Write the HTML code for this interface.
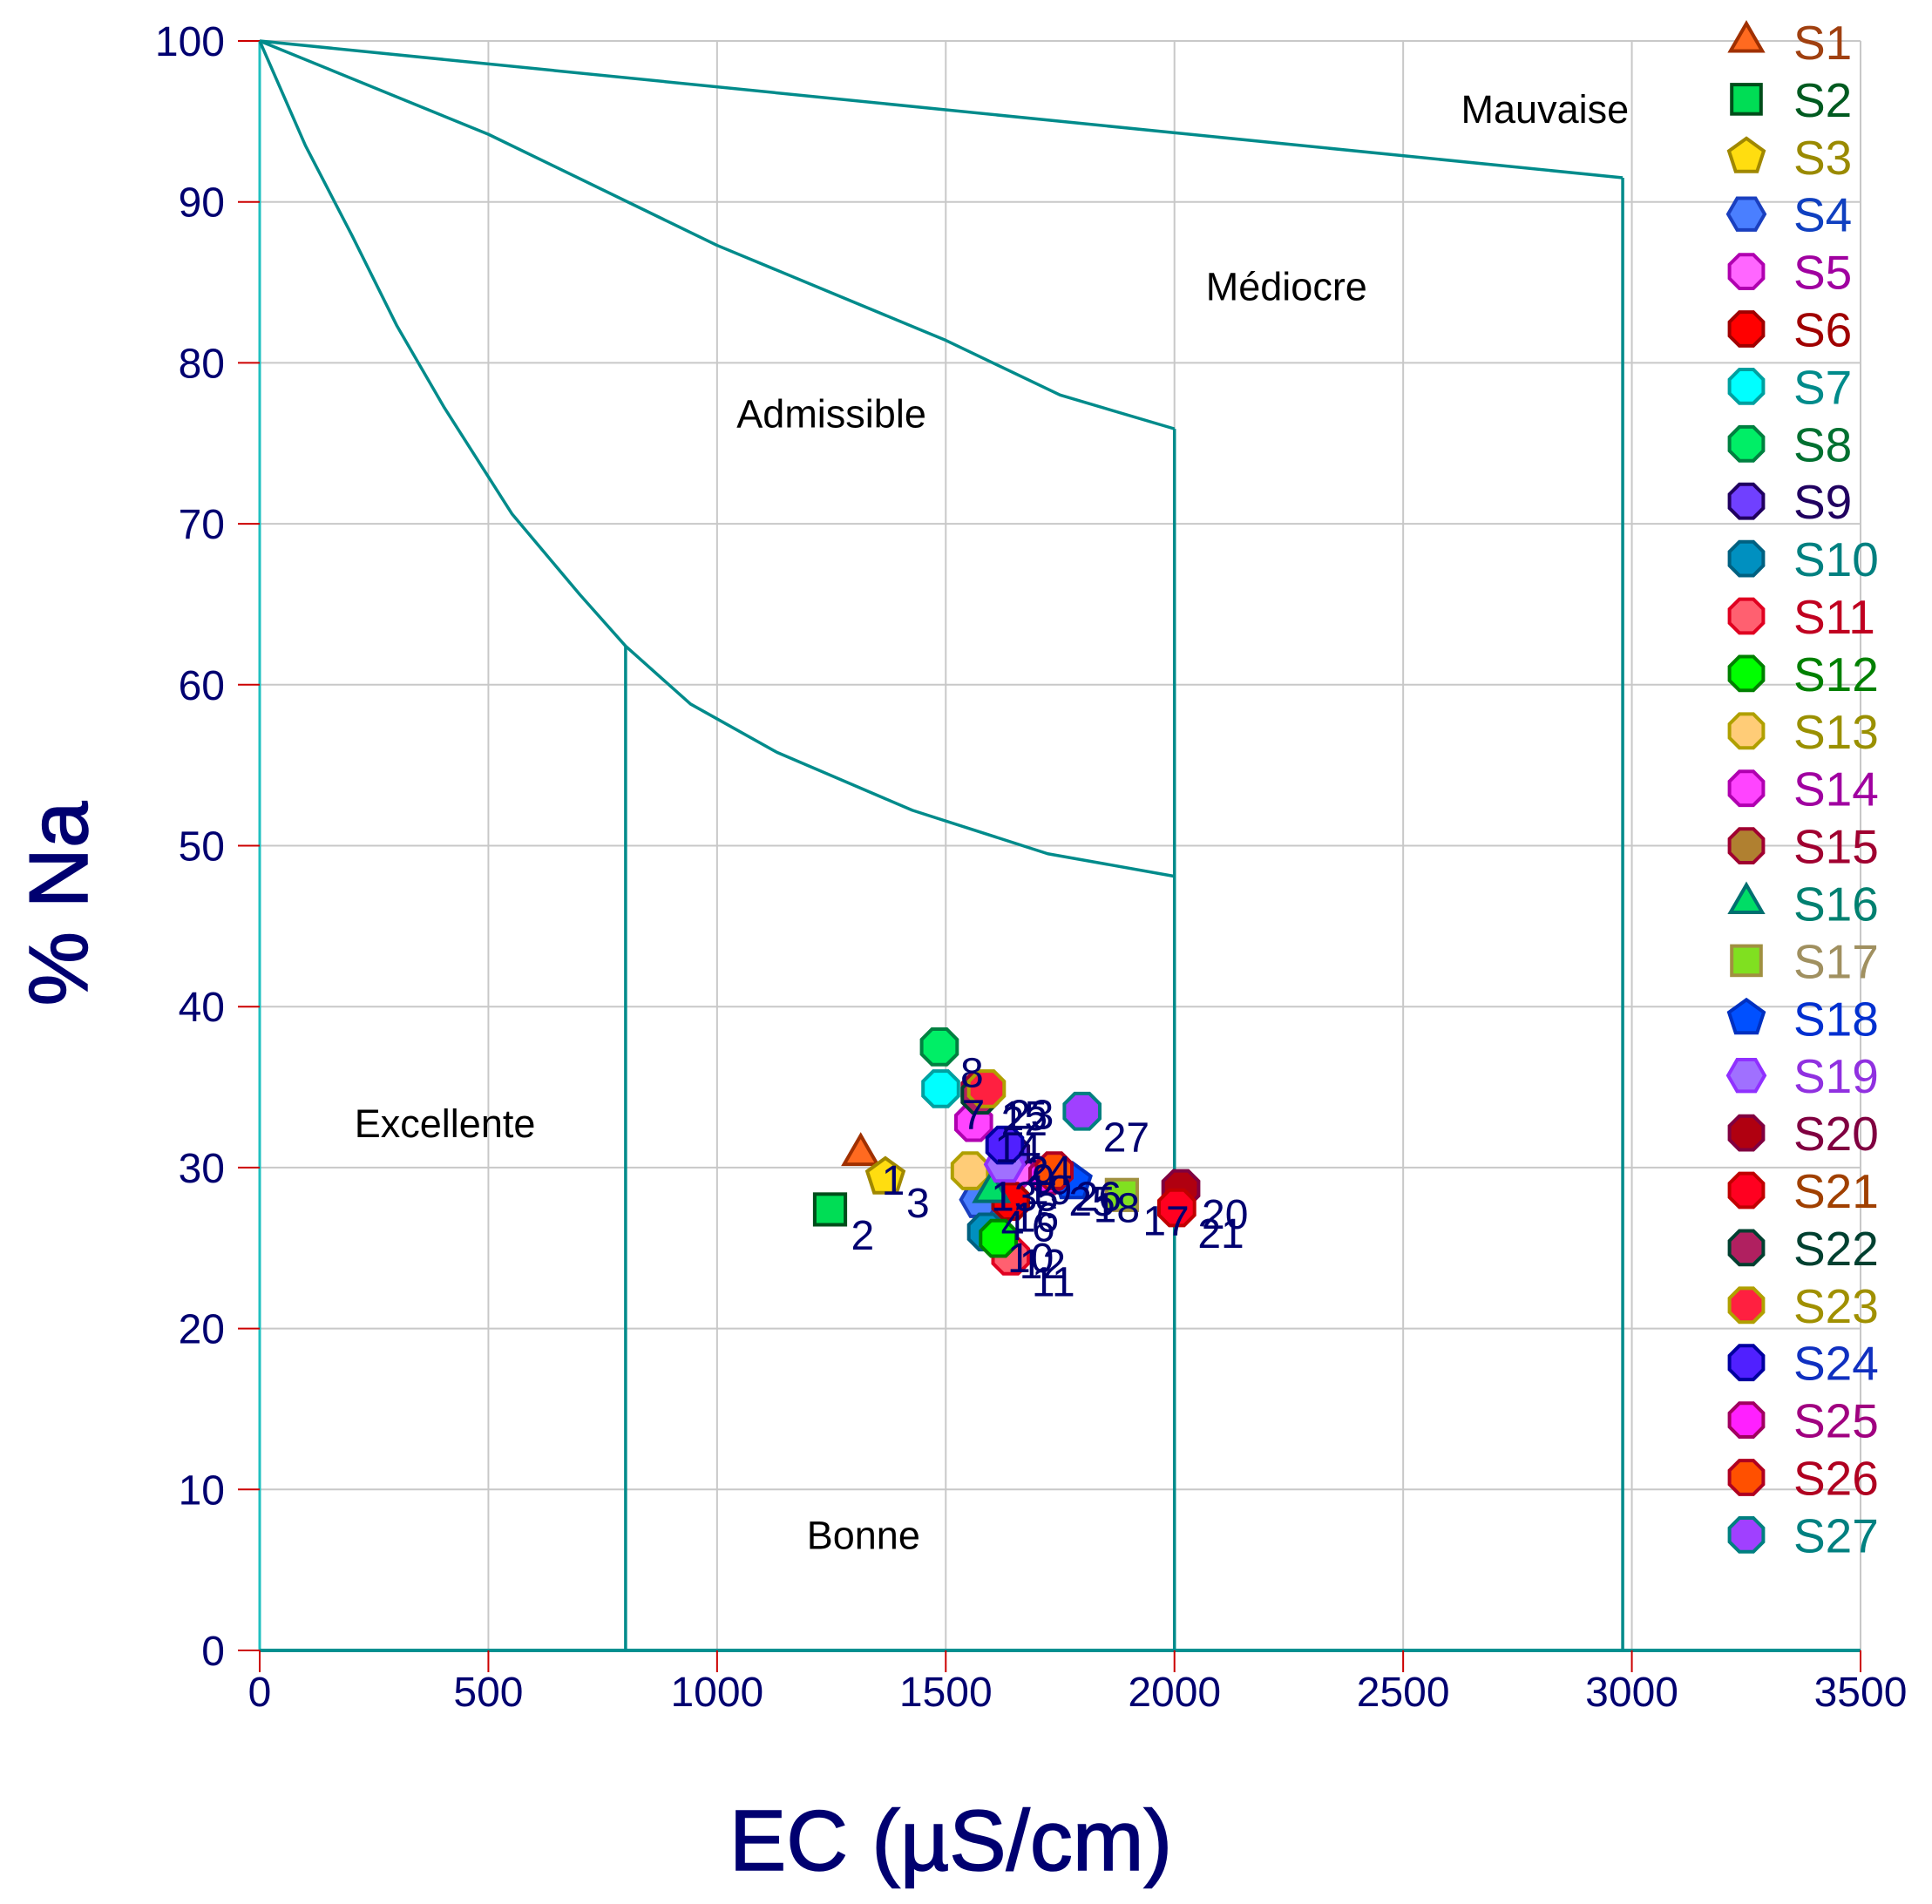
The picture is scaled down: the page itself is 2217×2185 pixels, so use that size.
<!DOCTYPE html>
<html><head><meta charset="utf-8"><style>
html,body{margin:0;padding:0;background:#fff;}
svg{display:block;font-family:"Liberation Sans",sans-serif;}
</style></head><body>
<svg id="chart" width="2217" height="2185" viewBox="0 0 2217 2185" xmlns="http://www.w3.org/2000/svg"></svg>
<script>
const xTicks=[0,500,1000,1500,2000,2500,3000,3500];
const yTicks=[0,10,20,30,40,50,60,70,80,90,100];
const seriesNames=["S1","S2","S3","S4","S5","S6","S7","S8","S9","S10","S11","S12","S13","S14","S15","S16","S17","S18","S19","S20","S21","S22","S23","S24","S25","S26","S27"];
const ecValues=[1314,1247,1368,1575,1650,1642,1489,1486,1642,1589,1642,1615,1553,1561,1575,1600,1885,1777,1629,2014,2005,1575,1589,1629,1723,1737,1798];
const naValues=[30.8,27.4,29.4,28.0,29.8,27.9,34.9,37.5,30.9,26.0,24.5,25.6,29.8,32.8,34.8,28.5,28.3,29.1,30.2,28.7,27.5,34.5,34.9,31.4,29.5,29.8,33.5];
const shapes=["tri","sq","pent","hex","oct","oct","oct","oct","oct","oct","oct","oct","oct","oct","oct","tri","sq","pent","hex","oct","oct","oct","oct","oct","oct","oct","oct"];
const fills=["#ff6a20","#00dd55","#ffdd10","#4a7fff","#ff66ff","#ff0000","#00ffff","#00ee66","#7040ff","#0090c0","#ff6070","#00ff00","#ffcc77","#ff44ff","#b08030","#00dd66","#80e020","#0050ff","#a070ff","#b00010","#ff0020","#b02060","#ff2040","#5020ff","#ff20ff","#ff5000","#a040ff"];
const strokes=["#a03000","#004d1a","#a08800","#1a3fbf","#b000b0","#a00000","#00a0a0","#008040","#200060","#006080","#e00020","#008000","#b0a000","#b000b0","#a00030","#007070","#a09040","#0030c0","#9030ff","#800040","#c00000","#004030","#b0a000","#0000a0","#a00060","#b00020","#008080"];
const textColors=["#a04010","#005a20","#9a8a00","#1040c0","#a000a0","#a00000","#008b8b","#007030","#200060","#008080","#c00020","#008000","#9a9000","#a000a0","#a00030","#008070","#a09060","#0030d0","#9030e0","#800040","#a04000","#004030","#a09000","#1030c0","#a00080","#b00020","#008080"];
const lowerCurveX=[0,100,202,300,404,552,700,800,942,1131,1427,1723,2000];
const lowerCurveY=[100,93.5,87.9,82.3,77.2,70.6,65.6,62.4,58.8,55.8,52.2,49.5,48.1];
const midCurveX=[0,500,1000,1500,1750,2000];
const midCurveY=[100,94.2,87.3,81.4,78,75.9];
const topLineX=[0,2980];
const topLineY=[100,91.5];
const zoneNames=["Mauvaise","Médiocre","Admissible","Excellente","Bonne"];
const zoneX=[2810,2245,1250,405,1320];
const zoneY=[94.9,83.9,76,31.9,6.3];

const NS="http://www.w3.org/2000/svg";
const svg=document.getElementById('chart');
const X0=298,X1=2135,Y0=1894,Y1=47;
const sx=v=>X0+(v/3500)*(X1-X0);
const sy=v=>Y0-(v/100)*(Y0-Y1);
function mk(tag,attrs,parent){const e=document.createElementNS(NS,tag);for(const k in attrs)e.setAttribute(k,attrs[k]);(parent||svg).appendChild(e);return e;}

const grid=mk('g',{});


xTicks.forEach(t=>{if(t>0){const l=mk('line',{x1:sx(t),x2:sx(t),y1:Y1,y2:Y0,stroke:'#c8c8c8','stroke-width':2},grid);}});
yTicks.forEach(t=>{if(t>0){const l=mk('line',{x1:X0,x2:X1,y1:sy(t),y2:sy(t),stroke:'#c8c8c8','stroke-width':2},grid);}});

const axes=mk('g',{});


const ya=mk('line',{x1:X0,x2:X0,y1:Y1,y2:Y0,stroke:'#20c0c0','stroke-width':3},axes);


const xa=mk('line',{x1:X0,x2:X1,y1:Y0,y2:Y0,stroke:'#009090','stroke-width':4},axes);


xTicks.forEach(t=>{
  mk('line',{x1:sx(t),x2:sx(t),y1:Y0,y2:Y0+25,stroke:'#cc0000','stroke-width':2},axes);
  const tx=mk('text',{x:sx(t),y:Y0+64,'text-anchor':'middle','font-size':48,fill:'#000070'},axes);
  tx.textContent=t;
  
  
});
yTicks.forEach(t=>{
  mk('line',{x1:X0-25,x2:X0,y1:sy(t),y2:sy(t),stroke:'#cc0000','stroke-width':2},axes);
  const tx=mk('text',{x:X0-40,y:sy(t)+17,'text-anchor':'end','font-size':48,fill:'#000070'},axes);
  tx.textContent=t;
  
  
});
const xt=mk('text',{x:1091,y:2146,'text-anchor':'middle','font-size':98,fill:'#000070',stroke:'#000070','stroke-width':1.5});
xt.textContent='EC (µS/cm)';


const yt=mk('text',{x:0,y:0,'text-anchor':'middle','font-size':96,fill:'#000070',stroke:'#000070','stroke-width':1.5,transform:'translate(100,1037) rotate(-90)'});
yt.textContent='% Na';



function poly(xs,ys){return xs.map((x,i)=>sx(x)+','+sy(ys[i])).join(' ');}
const bnd=mk('g',{fill:'none',stroke:'#008b8b','stroke-width':3.5,'stroke-linejoin':'round'});


const c1=mk('polyline',{points:poly(lowerCurveX,lowerCurveY)},bnd);


const v1=mk('line',{x1:sx(800),x2:sx(800),y1:sy(62.4),y2:Y0},bnd);


const c2=mk('polyline',{points:poly(midCurveX,midCurveY)},bnd);


const v2=mk('line',{x1:sx(2000),x2:sx(2000),y1:sy(75.9),y2:Y0},bnd);


const c3=mk('polyline',{points:poly(topLineX,topLineY)},bnd);


const v3=mk('line',{x1:sx(2980),x2:sx(2980),y1:sy(91.5),y2:Y0},bnd);



zoneNames.forEach((n,i)=>{
  const t=mk('text',{x:sx(zoneX[i]),y:sy(zoneY[i]),'text-anchor':'middle','font-size':45,fill:'#000'});
  t.textContent=n;
  
  
});

function marker(shape,cx,cy,r,fill,stroke,parent){
  let pts;
  const ngon=(n,rot)=>{const a=[];for(let k=0;k<n;k++){const t=rot+k*2*Math.PI/n;a.push((cx+r*Math.cos(t)).toFixed(1)+','+(cy+r*Math.sin(t)).toFixed(1));}return a.join(' ');};
  if(shape==='sq') return mk('rect',{x:cx-r*0.8,y:cy-r*0.8,width:r*1.6,height:r*1.6,fill:fill,stroke:stroke,'stroke-width':4},parent);
  if(shape==='tri') pts=ngon(3,-Math.PI/2);
  else if(shape==='pent') pts=ngon(5,-Math.PI/2);
  else if(shape==='hex') pts=ngon(6,0);
  else pts=ngon(8,Math.PI/8);
  return mk('polygon',{points:pts,fill:fill,stroke:stroke,'stroke-width':4},parent);
}

const pts=mk('g',{});


seriesNames.forEach((n,i)=>{
  const m=marker(shapes[i],sx(ecValues[i]),sy(naValues[i]),22,fills[i],strokes[i],pts);
  
  
});
seriesNames.forEach((n,i)=>{
  const t=mk('text',{x:sx(ecValues[i])+24,y:sy(naValues[i])+46,'font-size':48,fill:'#000070'},pts);
  t.textContent=String(i+1);
  
  
});

const lg=mk('g',{});


seriesNames.forEach((n,i)=>{
  const y=48+i*65.9;
  const m=marker(shapes[i],2004,y,21,fills[i],strokes[i],lg);
  
  
  const t=mk('text',{x:2058,y:y+20,'font-size':55,fill:textColors[i]},lg);
  t.textContent=n;
  
  
});
</script>
</body></html>
